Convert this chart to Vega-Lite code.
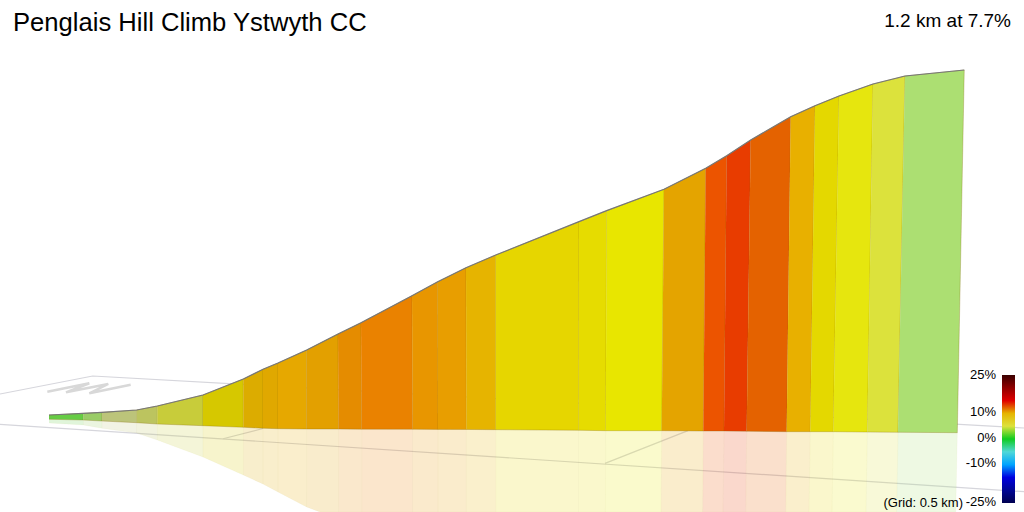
{
  "$schema": "https://vega.github.io/schema/vega-lite/v6.json",
  "width": 1024,
  "height": 512,
  "padding": 0,
  "autosize": "none",
  "background": "white",
  "config": {"view": {"stroke": null}, "font": "Liberation Sans"},
  "datasets": {
    "profile": [
      {"i":0,"dist":0,"elev":4.5},{"i":1,"dist":42.9,"elev":4.93},{"i":2,"dist":66.25,"elev":5.18},{"i":3,"dist":109.6,"elev":5.75},
      {"i":4,"dist":135.4,"elev":6.75},{"i":5,"dist":192.5,"elev":9.5},{"i":6,"dist":242.9,"elev":13.5},{"i":7,"dist":267.5,"elev":15.93},
      {"i":8,"dist":286.25,"elev":17.5},{"i":9,"dist":322.1,"elev":20.75},{"i":10,"dist":361.25,"elev":24.75},{"i":11,"dist":390,"elev":27.58},
      {"i":12,"dist":453.75,"elev":34.33},{"i":13,"dist":485.9,"elev":37.83},{"i":14,"dist":521.25,"elev":41.33},{"i":15,"dist":558.4,"elev":44.5},
      {"i":16,"dist":662.5,"elev":52.83},{"i":17,"dist":697.1,"elev":55.58},{"i":18,"dist":768.75,"elev":60.93},{"i":19,"dist":820.9,"elev":66.18},
      {"i":20,"dist":847.1,"elev":69.33},{"i":21,"dist":877.1,"elev":73.25},{"i":22,"dist":927.1,"elev":79.08},{"i":23,"dist":957.5,"elev":81.83},
      {"i":24,"dist":987.5,"elev":84.25},{"i":25,"dist":1030,"elev":87.25},{"i":26,"dist":1070,"elev":89.25},{"i":27,"dist":1144.1,"elev":90.75}
    ],
    "walls": [
      {"seg":1,"i":0,"grade":1,"dist":0,"elev":4.5},{"seg":1,"i":1,"grade":1,"dist":42.9,"elev":4.93},{"seg":1,"i":2,"grade":1,"dist":42.9,"elev":3.25},{"seg":1,"i":3,"grade":1,"dist":0,"elev":3.43},
      {"seg":2,"i":0,"grade":1.5,"dist":42.9,"elev":4.93},{"seg":2,"i":1,"grade":1.5,"dist":66.25,"elev":5.18},{"seg":2,"i":2,"grade":1.5,"dist":66.25,"elev":3},{"seg":2,"i":3,"grade":1.5,"dist":42.9,"elev":3.25},
      {"seg":3,"i":0,"grade":2.5,"dist":66.25,"elev":5.18},{"seg":3,"i":1,"grade":2.5,"dist":109.6,"elev":5.75},{"seg":3,"i":2,"grade":2.5,"dist":109.6,"elev":2.58},{"seg":3,"i":3,"grade":2.5,"dist":66.25,"elev":3},
      {"seg":4,"i":0,"grade":3,"dist":109.6,"elev":5.75},{"seg":4,"i":1,"grade":3,"dist":135.4,"elev":6.75},{"seg":4,"i":2,"grade":3,"dist":135.4,"elev":2.25},{"seg":4,"i":3,"grade":3,"dist":109.6,"elev":2.58},
      {"seg":5,"i":0,"grade":4,"dist":135.4,"elev":6.75},{"seg":5,"i":1,"grade":4,"dist":192.5,"elev":9.5},{"seg":5,"i":2,"grade":4,"dist":192.5,"elev":1.83},{"seg":5,"i":3,"grade":4,"dist":135.4,"elev":2.25},
      {"seg":6,"i":0,"grade":6,"dist":192.5,"elev":9.5},{"seg":6,"i":1,"grade":6,"dist":242.9,"elev":13.5},{"seg":6,"i":2,"grade":6,"dist":242.9,"elev":1.43},{"seg":6,"i":3,"grade":6,"dist":192.5,"elev":1.83},
      {"seg":7,"i":0,"grade":10.3,"dist":242.9,"elev":13.5},{"seg":7,"i":1,"grade":10.3,"dist":267.5,"elev":15.93},{"seg":7,"i":2,"grade":10.3,"dist":267.5,"elev":1.18},{"seg":7,"i":3,"grade":10.3,"dist":242.9,"elev":1.43},
      {"seg":8,"i":0,"grade":10.5,"dist":267.5,"elev":15.93},{"seg":8,"i":1,"grade":10.5,"dist":286.25,"elev":17.5},{"seg":8,"i":2,"grade":10.5,"dist":286.25,"elev":1.08},{"seg":8,"i":3,"grade":10.5,"dist":267.5,"elev":1.18},
      {"seg":9,"i":0,"grade":10.4,"dist":286.25,"elev":17.5},{"seg":9,"i":1,"grade":10.4,"dist":322.1,"elev":20.75},{"seg":9,"i":2,"grade":10.4,"dist":322.1,"elev":1},{"seg":9,"i":3,"grade":10.4,"dist":286.25,"elev":1.08},
      {"seg":10,"i":0,"grade":10.8,"dist":322.1,"elev":20.75},{"seg":10,"i":1,"grade":10.8,"dist":361.25,"elev":24.75},{"seg":10,"i":2,"grade":10.8,"dist":361.9,"elev":1},{"seg":10,"i":3,"grade":10.8,"dist":322.1,"elev":1},
      {"seg":11,"i":0,"grade":11.4,"dist":361.25,"elev":24.75},{"seg":11,"i":1,"grade":11.4,"dist":390,"elev":27.58},{"seg":11,"i":2,"grade":11.4,"dist":390.9,"elev":0.95},{"seg":11,"i":3,"grade":11.4,"dist":361.9,"elev":1},
      {"seg":12,"i":0,"grade":11.6,"dist":390,"elev":27.58},{"seg":12,"i":1,"grade":11.6,"dist":453.75,"elev":34.33},{"seg":12,"i":2,"grade":11.6,"dist":454.6,"elev":0.93},{"seg":12,"i":3,"grade":11.6,"dist":390.9,"elev":0.95},
      {"seg":13,"i":0,"grade":11.2,"dist":453.75,"elev":34.33},{"seg":13,"i":1,"grade":11.2,"dist":485.9,"elev":37.83},{"seg":13,"i":2,"grade":11.2,"dist":486.25,"elev":0.9},{"seg":13,"i":3,"grade":11.2,"dist":454.6,"elev":0.93},
      {"seg":14,"i":0,"grade":11,"dist":485.9,"elev":37.83},{"seg":14,"i":1,"grade":11,"dist":521.25,"elev":41.33},{"seg":14,"i":2,"grade":11,"dist":521.75,"elev":0.88},{"seg":14,"i":3,"grade":11,"dist":486.25,"elev":0.9},
      {"seg":15,"i":0,"grade":10,"dist":521.25,"elev":41.33},{"seg":15,"i":1,"grade":10,"dist":558.4,"elev":44.5},{"seg":15,"i":2,"grade":10,"dist":558.4,"elev":0.83},{"seg":15,"i":3,"grade":10,"dist":521.75,"elev":0.88},
      {"seg":16,"i":0,"grade":9.6,"dist":558.4,"elev":44.5},{"seg":16,"i":1,"grade":9.6,"dist":662.5,"elev":52.83},{"seg":16,"i":2,"grade":9.6,"dist":662.1,"elev":0.68},{"seg":16,"i":3,"grade":9.6,"dist":558.4,"elev":0.83},
      {"seg":17,"i":0,"grade":9.3,"dist":662.5,"elev":52.83},{"seg":17,"i":1,"grade":9.3,"dist":697.1,"elev":55.58},{"seg":17,"i":2,"grade":9.3,"dist":695.9,"elev":0.58},{"seg":17,"i":3,"grade":9.3,"dist":662.1,"elev":0.68},
      {"seg":18,"i":0,"grade":9,"dist":697.1,"elev":55.58},{"seg":18,"i":1,"grade":9,"dist":768.75,"elev":60.93},{"seg":18,"i":2,"grade":9,"dist":765.9,"elev":0.58},{"seg":18,"i":3,"grade":9,"dist":695.9,"elev":0.58},
      {"seg":19,"i":0,"grade":10.6,"dist":768.75,"elev":60.93},{"seg":19,"i":1,"grade":10.6,"dist":820.9,"elev":66.18},{"seg":19,"i":2,"grade":10.6,"dist":817.9,"elev":0.5},{"seg":19,"i":3,"grade":10.6,"dist":765.9,"elev":0.58},
      {"seg":20,"i":0,"grade":13,"dist":820.9,"elev":66.18},{"seg":20,"i":1,"grade":13,"dist":847.1,"elev":69.33},{"seg":20,"i":2,"grade":13,"dist":843.75,"elev":0.5},{"seg":20,"i":3,"grade":13,"dist":817.9,"elev":0.5},
      {"seg":21,"i":0,"grade":14,"dist":847.1,"elev":69.33},{"seg":21,"i":1,"grade":14,"dist":877.1,"elev":73.25},{"seg":21,"i":2,"grade":14,"dist":872.1,"elev":0.43},{"seg":21,"i":3,"grade":14,"dist":843.75,"elev":0.5},
      {"seg":22,"i":0,"grade":12,"dist":877.1,"elev":73.25},{"seg":22,"i":1,"grade":12,"dist":927.1,"elev":79.08},{"seg":22,"i":2,"grade":12,"dist":922.1,"elev":0.33},{"seg":22,"i":3,"grade":12,"dist":872.1,"elev":0.43},
      {"seg":23,"i":0,"grade":10.2,"dist":927.1,"elev":79.08},{"seg":23,"i":1,"grade":10.2,"dist":957.5,"elev":81.83},{"seg":23,"i":2,"grade":10.2,"dist":951.6,"elev":0.33},{"seg":23,"i":3,"grade":10.2,"dist":922.1,"elev":0.33},
      {"seg":24,"i":0,"grade":9.5,"dist":957.5,"elev":81.83},{"seg":24,"i":1,"grade":9.5,"dist":987.5,"elev":84.25},{"seg":24,"i":2,"grade":9.5,"dist":980.4,"elev":0.33},{"seg":24,"i":3,"grade":9.5,"dist":951.6,"elev":0.33},
      {"seg":25,"i":0,"grade":8,"dist":987.5,"elev":84.25},{"seg":25,"i":1,"grade":8,"dist":1030,"elev":87.25},{"seg":25,"i":2,"grade":8,"dist":1022.9,"elev":0.25},{"seg":25,"i":3,"grade":8,"dist":980.4,"elev":0.33},
      {"seg":26,"i":0,"grade":5,"dist":1030,"elev":87.25},{"seg":26,"i":1,"grade":5,"dist":1070,"elev":89.25},{"seg":26,"i":2,"grade":5,"dist":1061.25,"elev":0.18},{"seg":26,"i":3,"grade":5,"dist":1022.9,"elev":0.25},
      {"seg":27,"i":0,"grade":2,"dist":1070,"elev":89.25},{"seg":27,"i":1,"grade":2,"dist":1144.1,"elev":90.75},{"seg":27,"i":2,"grade":2,"dist":1135.4,"elev":0.08},{"seg":27,"i":3,"grade":2,"dist":1061.25,"elev":0.18}
    ],
    "reflection": [
      {"seg":1,"i":0,"grade":1,"dist":0,"elev":3.43},{"seg":1,"i":1,"grade":1,"dist":42.9,"elev":3.25},{"seg":1,"i":2,"grade":1,"dist":42.9,"elev":2},{"seg":1,"i":3,"grade":1,"dist":0,"elev":2.5},
      {"seg":2,"i":0,"grade":1.5,"dist":42.9,"elev":3.25},{"seg":2,"i":1,"grade":1.5,"dist":66.25,"elev":3},{"seg":2,"i":2,"grade":1.5,"dist":66.25,"elev":1.18},{"seg":2,"i":3,"grade":1.5,"dist":42.9,"elev":2},
      {"seg":3,"i":0,"grade":2.5,"dist":66.25,"elev":3},{"seg":3,"i":1,"grade":2.5,"dist":109.6,"elev":2.58},{"seg":3,"i":2,"grade":2.5,"dist":109.6,"elev":0},{"seg":3,"i":3,"grade":2.5,"dist":66.25,"elev":1.18},
      {"seg":4,"i":0,"grade":3,"dist":109.6,"elev":2.58},{"seg":4,"i":1,"grade":3,"dist":135.4,"elev":2.25},{"seg":4,"i":2,"grade":3,"dist":135.4,"elev":-1.75},{"seg":4,"i":3,"grade":3,"dist":109.6,"elev":0},
      {"seg":5,"i":0,"grade":4,"dist":135.4,"elev":2.25},{"seg":5,"i":1,"grade":4,"dist":192.5,"elev":1.83},{"seg":5,"i":2,"grade":4,"dist":192.5,"elev":-6},{"seg":5,"i":3,"grade":4,"dist":135.4,"elev":-1.75},
      {"seg":6,"i":0,"grade":6,"dist":192.5,"elev":1.83},{"seg":6,"i":1,"grade":6,"dist":242.9,"elev":1.43},{"seg":6,"i":2,"grade":6,"dist":242.9,"elev":-10.5},{"seg":6,"i":3,"grade":6,"dist":192.5,"elev":-6},
      {"seg":7,"i":0,"grade":10.3,"dist":242.9,"elev":1.43},{"seg":7,"i":1,"grade":10.3,"dist":267.5,"elev":1.18},{"seg":7,"i":2,"grade":10.3,"dist":267.5,"elev":-12.75},{"seg":7,"i":3,"grade":10.3,"dist":242.9,"elev":-10.5},
      {"seg":8,"i":0,"grade":10.5,"dist":267.5,"elev":1.18},{"seg":8,"i":1,"grade":10.5,"dist":286.25,"elev":1.08},{"seg":8,"i":2,"grade":10.5,"dist":286.25,"elev":-14.75},{"seg":8,"i":3,"grade":10.5,"dist":267.5,"elev":-12.75},
      {"seg":9,"i":0,"grade":10.4,"dist":286.25,"elev":1.08},{"seg":9,"i":1,"grade":10.4,"dist":322.1,"elev":1},{"seg":9,"i":2,"grade":10.4,"dist":322.1,"elev":-18.5},{"seg":9,"i":3,"grade":10.4,"dist":286.25,"elev":-14.75},
      {"seg":10,"i":0,"grade":10.8,"dist":322.1,"elev":1},{"seg":10,"i":1,"grade":10.8,"dist":361.9,"elev":1},{"seg":10,"i":2,"grade":10.8,"dist":361.9,"elev":-19.75},{"seg":10,"i":3,"grade":10.8,"dist":338.75,"elev":-19.75},{"seg":10,"i":4,"grade":10.8,"dist":322.1,"elev":-18.5},
      {"seg":11,"i":0,"grade":11.4,"dist":361.9,"elev":1},{"seg":11,"i":1,"grade":11.4,"dist":390.9,"elev":0.95},{"seg":11,"i":2,"grade":11.4,"dist":390.9,"elev":-19.75},{"seg":11,"i":3,"grade":11.4,"dist":361.9,"elev":-19.75},
      {"seg":12,"i":0,"grade":11.6,"dist":390.9,"elev":0.95},{"seg":12,"i":1,"grade":11.6,"dist":454.6,"elev":0.93},{"seg":12,"i":2,"grade":11.6,"dist":454.6,"elev":-19.75},{"seg":12,"i":3,"grade":11.6,"dist":390.9,"elev":-19.75},
      {"seg":13,"i":0,"grade":11.2,"dist":454.6,"elev":0.93},{"seg":13,"i":1,"grade":11.2,"dist":486.25,"elev":0.9},{"seg":13,"i":2,"grade":11.2,"dist":486.25,"elev":-19.75},{"seg":13,"i":3,"grade":11.2,"dist":454.6,"elev":-19.75},
      {"seg":14,"i":0,"grade":11,"dist":486.25,"elev":0.9},{"seg":14,"i":1,"grade":11,"dist":521.75,"elev":0.88},{"seg":14,"i":2,"grade":11,"dist":521.75,"elev":-19.75},{"seg":14,"i":3,"grade":11,"dist":486.25,"elev":-19.75},
      {"seg":15,"i":0,"grade":10,"dist":521.75,"elev":0.88},{"seg":15,"i":1,"grade":10,"dist":558.4,"elev":0.83},{"seg":15,"i":2,"grade":10,"dist":558.4,"elev":-19.75},{"seg":15,"i":3,"grade":10,"dist":521.75,"elev":-19.75},
      {"seg":16,"i":0,"grade":9.6,"dist":558.4,"elev":0.83},{"seg":16,"i":1,"grade":9.6,"dist":662.1,"elev":0.68},{"seg":16,"i":2,"grade":9.6,"dist":662.1,"elev":-19.75},{"seg":16,"i":3,"grade":9.6,"dist":558.4,"elev":-19.75},
      {"seg":17,"i":0,"grade":9.3,"dist":662.1,"elev":0.68},{"seg":17,"i":1,"grade":9.3,"dist":695.9,"elev":0.58},{"seg":17,"i":2,"grade":9.3,"dist":695.5,"elev":-19.75},{"seg":17,"i":3,"grade":9.3,"dist":662.1,"elev":-19.75},
      {"seg":18,"i":0,"grade":9,"dist":695.9,"elev":0.58},{"seg":18,"i":1,"grade":9,"dist":765.9,"elev":0.58},{"seg":18,"i":2,"grade":9,"dist":765,"elev":-19.75},{"seg":18,"i":3,"grade":9,"dist":695.5,"elev":-19.75},
      {"seg":19,"i":0,"grade":10.6,"dist":765.9,"elev":0.58},{"seg":19,"i":1,"grade":10.6,"dist":817.9,"elev":0.5},{"seg":19,"i":2,"grade":10.6,"dist":817.1,"elev":-19.75},{"seg":19,"i":3,"grade":10.6,"dist":765,"elev":-19.75},
      {"seg":20,"i":0,"grade":13,"dist":817.9,"elev":0.5},{"seg":20,"i":1,"grade":13,"dist":843.75,"elev":0.5},{"seg":20,"i":2,"grade":13,"dist":842.5,"elev":-19.75},{"seg":20,"i":3,"grade":13,"dist":817.1,"elev":-19.75},
      {"seg":21,"i":0,"grade":14,"dist":843.75,"elev":0.5},{"seg":21,"i":1,"grade":14,"dist":872.1,"elev":0.43},{"seg":21,"i":2,"grade":14,"dist":870.9,"elev":-19.75},{"seg":21,"i":3,"grade":14,"dist":842.5,"elev":-19.75},
      {"seg":22,"i":0,"grade":12,"dist":872.1,"elev":0.43},{"seg":22,"i":1,"grade":12,"dist":922.1,"elev":0.33},{"seg":22,"i":2,"grade":12,"dist":920.9,"elev":-19.75},{"seg":22,"i":3,"grade":12,"dist":870.9,"elev":-19.75},
      {"seg":23,"i":0,"grade":10.2,"dist":922.1,"elev":0.33},{"seg":23,"i":1,"grade":10.2,"dist":951.6,"elev":0.33},{"seg":23,"i":2,"grade":10.2,"dist":950,"elev":-19.75},{"seg":23,"i":3,"grade":10.2,"dist":920.9,"elev":-19.75},
      {"seg":24,"i":0,"grade":9.5,"dist":951.6,"elev":0.33},{"seg":24,"i":1,"grade":9.5,"dist":980.4,"elev":0.33},{"seg":24,"i":2,"grade":9.5,"dist":978.75,"elev":-19.75},{"seg":24,"i":3,"grade":9.5,"dist":950,"elev":-19.75},
      {"seg":25,"i":0,"grade":8,"dist":980.4,"elev":0.33},{"seg":25,"i":1,"grade":8,"dist":1022.9,"elev":0.25},{"seg":25,"i":2,"grade":8,"dist":1021.25,"elev":-19.75},{"seg":25,"i":3,"grade":8,"dist":978.75,"elev":-19.75},
      {"seg":26,"i":0,"grade":5,"dist":1022.9,"elev":0.25},{"seg":26,"i":1,"grade":5,"dist":1061.25,"elev":0.18},{"seg":26,"i":2,"grade":5,"dist":1059.6,"elev":-19.75},{"seg":26,"i":3,"grade":5,"dist":1021.25,"elev":-19.75},
      {"seg":27,"i":0,"grade":2,"dist":1061.25,"elev":0.18},{"seg":27,"i":1,"grade":2,"dist":1135.4,"elev":0.08},{"seg":27,"i":2,"grade":2,"dist":1133.4,"elev":-19.75},{"seg":27,"i":3,"grade":2,"dist":1059.6,"elev":-19.75}
    ],
    "grid": [
      {"line":"a","i":0,"dist":-61.25,"elev":9.75},{"line":"a","i":1,"dist":54.6,"elev":14.25},{"line":"a","i":2,"dist":1218.75,"elev":1.25},
      {"line":"b","i":0,"dist":-61.25,"elev":2.18},{"line":"b","i":1,"dist":1218.75,"elev":-14.68},
      {"line":"c","i":0,"dist":217.5,"elev":-1.43},{"line":"c","i":1,"dist":267.5,"elev":1.13},
      {"line":"d","i":0,"dist":695,"elev":-7.58},{"line":"d","i":1,"dist":798.75,"elev":0.58}
    ],
    "north": [
      {"i":0,"dist":-2.1,"elev":10.33},{"i":1,"dist":50.4,"elev":12.43},{"i":2,"dist":21.25,"elev":10.17},
      {"i":3,"dist":74.1,"elev":12.25},{"i":4,"dist":50.4,"elev":9.93},{"i":5,"dist":102.1,"elev":12.08}
    ],
    "scaleLabels": [
      {"label":"25%","dist":1183.75,"elev":14.5},{"label":"10%","dist":1183.75,"elev":5.25},{"label":"0%","dist":1183.75,"elev":-1.33},
      {"label":"-10%","dist":1183.75,"elev":-7.5},{"label":"-25%","dist":1183.75,"elev":-17.2}
    ]
  },
  "encoding": {
    "x": {"field": "dist", "type": "quantitative", "axis": null, "scale": {"domain": [-61.25, 1218.75], "nice": false, "zero": false}},
    "y": {"field": "elev", "type": "quantitative", "axis": null, "scale": {"domain": [-19.75, 108.25], "nice": false, "zero": false}}
  },
  "layer": [
    {
      "data": {"name": "grid"},
      "mark": {"type": "line", "stroke": "#d6d6dc", "strokeWidth": 1.2},
      "encoding": {"detail": {"field": "line"}, "order": {"field": "i", "type": "quantitative"}}
    },
    {
      "data": {"name": "north"},
      "mark": {"type": "line", "stroke": "#d8d8d8", "strokeWidth": 2.5},
      "encoding": {"order": {"field": "i", "type": "quantitative"}}
    },
    {
      "data": {"name": "reflection"},
      "mark": {"type": "line", "fillOpacity": 0.2, "stroke": "#a0a000", "strokeOpacity": 0.04, "strokeWidth": 1},
      "encoding": {
        "detail": {"field": "seg"},
        "order": {"field": "i", "type": "quantitative"},
        "fill": {
          "field": "grade",
          "type": "quantitative",
          "scale": {
            "domain": [-25, -15, -12, -8, -5, -2.5, 0, 1, 1.5, 2, 2.5, 3, 4, 5, 6, 8, 9, 9.3, 9.5, 9.6, 10, 10.2, 10.3, 10.4, 10.5, 10.6, 10.8, 11, 11.2, 11.4, 11.6, 12, 13, 14, 15, 20, 25],
            "range": ["#000050", "#0000e0", "#0050ff", "#00e0f0", "#50d8d8", "#60c8c8", "#10cc20", "#66cc44", "#99cc66", "#acdf72", "#bcc47a", "#bcc45f", "#c8cc3a", "#dce23c", "#d6c800", "#e6e60e", "#e8e600", "#e6dc00", "#e4d800", "#e6d600", "#e6b400", "#e8b000", "#dcac00", "#e6a800", "#e0a800", "#e4a400", "#e3a000", "#e89e00", "#e89600", "#e58c00", "#ea8200", "#e46200", "#ec5400", "#e83c00", "#e00000", "#900000", "#3a0000"]
          },
          "legend": {
            "title": null,
            "orient": "none",
            "legendX": 1002,
            "legendY": 375,
            "direction": "vertical",
            "gradientLength": 128,
            "gradientThickness": 13,
            "gradientStrokeWidth": 0,
            "labelExpr": "''",
            "labelOpacity": 0
          }
        }
      }
    },
    {
      "data": {"name": "walls"},
      "mark": {"type": "line", "stroke": "#806000", "strokeOpacity": 0.28, "strokeWidth": 1},
      "encoding": {
        "detail": {"field": "seg"},
        "order": {"field": "i", "type": "quantitative"},
        "fill": {"field": "grade", "type": "quantitative"}
      }
    },
    {
      "data": {"name": "profile"},
      "mark": {"type": "line", "stroke": "#777777", "strokeWidth": 1.2},
      "encoding": {"order": {"field": "i", "type": "quantitative"}}
    },
    {
      "data": {"name": "scaleLabels"},
      "mark": {"type": "text", "align": "right", "baseline": "middle", "fontSize": 13, "color": "#000000"},
      "encoding": {"text": {"field": "label"}}
    },
    {
      "data": {"values": [{"label": "Penglais Hill Climb Ystwyth CC", "dist": -45, "elev": 100.5}]},
      "mark": {"type": "text", "align": "left", "baseline": "alphabetic", "fontSize": 25.6, "color": "#000000"},
      "encoding": {"text": {"field": "label"}}
    },
    {
      "data": {"values": [{"label": "1.2 km at 7.7%", "dist": 1202.5, "elev": 101.6}]},
      "mark": {"type": "text", "align": "right", "baseline": "alphabetic", "fontSize": 19, "color": "#000000"},
      "encoding": {"text": {"field": "label"}}
    },
    {
      "data": {"values": [{"label": "(Grid: 0.5 km)", "dist": 1142.5, "elev": -18.5}]},
      "mark": {"type": "text", "align": "right", "baseline": "alphabetic", "fontSize": 13, "color": "#000000"},
      "encoding": {"text": {"field": "label"}}
    }
  ]
}
